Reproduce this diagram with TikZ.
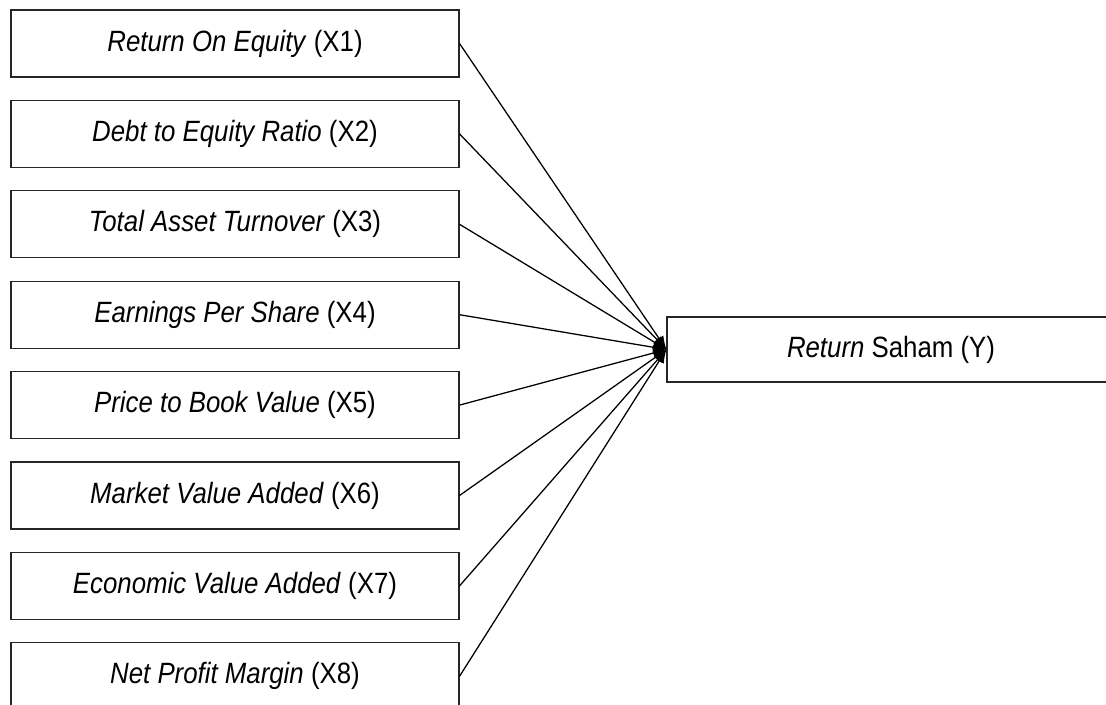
\documentclass[tikz,border=0pt]{standalone}
\usepackage{fontspec}
\setmainfont{Liberation Sans}[FakeStretch=0.88]
\usetikzlibrary{positioning,shapes,arrows.meta}
\tikzstyle{varbox} = [rectangle, draw=black!85, line width=0.8pt, align=center, minimum height=50.25pt, minimum width=336pt, inner sep=0pt, font=\fontsize{22}{26}\selectfont]
\tikzstyle{link} = [-{Latex[length=10pt,width=8pt]}, line width=0.95pt]

\begin{document}
\begin{tikzpicture}[x=0.75pt, y=-0.75pt, node distance=67.8pt]
\useasboundingbox (0,0) rectangle (1106,705);
\node[varbox] at (235,43.5) (x1) {\textit{Return On Equity} (X1)};
\node[varbox, below of=x1] (x2) {\textit{Debt to Equity Ratio} (X2)};
\node[varbox, below of=x2] (x3) {\textit{Total Asset Turnover} (X3)};
\node[varbox, below of=x3] (x4) {\textit{Earnings Per Share} (X4)};
\node[varbox, below of=x4] (x5) {\textit{Price to Book Value} (X5)};
\node[varbox, below of=x5] (x6) {\textit{Market Value Added} (X6)};
\node[varbox, below of=x6] (x7) {\textit{Economic Value Added} (X7)};
\node[varbox, below of=x7] (x8) {\textit{Net Profit Margin} (X8)};
\node[varbox, minimum height=48.75pt] at (891,349.5) (ret) {\textit{Return} Saham (Y)};
\draw[link] (x1.east) -- (ret.west);
\draw[link] (x2.east) -- (ret.west);
\draw[link] (x3.east) -- (ret.west);
\draw[link] (x4.east) -- (ret.west);
\draw[link] (x5.east) -- (ret.west);
\draw[link] (x6.east) -- (ret.west);
\draw[link] (x7.east) -- (ret.west);
\draw[link] (x8.east) -- (ret.west);
\end{tikzpicture}
\end{document}
